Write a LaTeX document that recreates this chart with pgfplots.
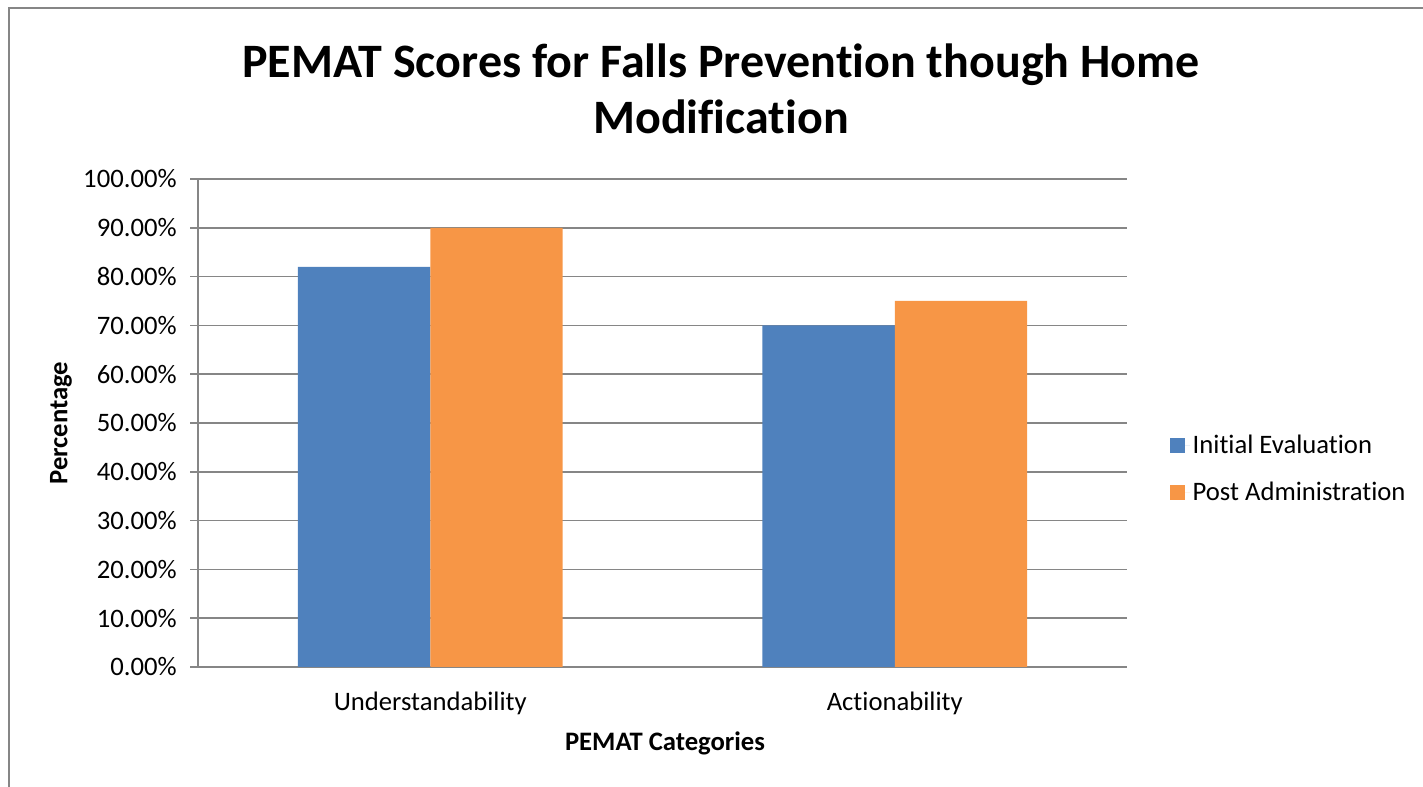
\documentclass[border=0pt]{standalone}
\usepackage{pgfplots}
\pgfplotsset{compat=1.18}
\usepackage{fontspec}
\setmainfont{Carlito}[Ligatures={NoCommon}]
\definecolor{cblue}{HTML}{4F81BD}
\definecolor{corange}{HTML}{F79646}
\definecolor{gridc}{HTML}{868686}
\begin{document}
\begin{tikzpicture}[x=0.75pt,y=0.75pt]
\useasboundingbox (0,0) rectangle (1423,787);
\draw[gridc, line width=1.5pt] (8.5,0) -- (8.5,778.5) -- (1423,778.5);
\node[font=\bfseries\fontsize{36}{42}\selectfont, align=center] at (721,698) {PEMAT Scores for Falls Prevention though Home\\Modification};
\node[font=\bfseries\fontsize{20}{24}\selectfont, rotate=90] at (61,364) {Percentage};
\node[font=\bfseries\fontsize{20}{24}\selectfont] at (665,44) {PEMAT Categories};
\begin{axis}[at={(148.5pt,90pt)}, anchor=south west, scale only axis,
  width=696.75pt, height=366pt,
  /pgf/number format/assume math mode=true,
  ybar=0pt, bar width=0.285,
  xmin=-0.5, xmax=1.5, ymin=0, ymax=100,
  xtick=data, xticklabels={Understandability,Actionability},
  ytick={0,10,...,100},
  yticklabel={\pgfmathprintnumber[fixed,fixed zerofill,precision=2]{\tick}\%},
  ymajorgrids, grid style={gridc, line width=1.1pt},
  axis x line*=bottom, axis y line*=left,
  axis line style={gridc, line width=1.1pt, -},
  tick align=outside, major tick length=6pt,
  ytick style={gridc, line width=1.1pt},
  xtick style={draw=none},
  ticklabel style={font=\fontsize{20}{24}\selectfont},
  yticklabel style={xshift=-6.5pt},
  xticklabel style={yshift=-9pt},
  legend style={at={(1.046,0.406)}, anchor=west, draw=none, fill=none,
    font=\fontsize{20}{24}\selectfont, row sep=15.5pt, inner sep=0pt},
  legend cell align=left,
  legend image code/.code={\fill[#1] (0pt,-5.6pt) rectangle (11.25pt,5.6pt); \path (0pt,0pt) -- (15pt,0pt);},
]
\addplot[fill=cblue, draw=none] coordinates {(0,82) (1,70)};
\addplot[fill=corange, draw=none] coordinates {(0,90) (1,75)};
\legend{Initial Evaluation, Post Administration}
\end{axis}
\end{tikzpicture}
\end{document}
